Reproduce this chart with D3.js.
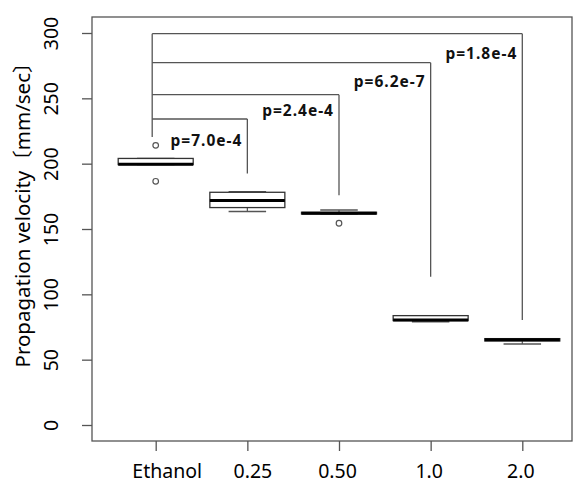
<!DOCTYPE html>
<html><head><meta charset="utf-8">
<script src="https://cdn.jsdelivr.net/npm/d3@7"></script>
<style>
body{margin:0;background:#fff;}
svg{display:block;}
</style></head>
<body>
<svg id="chart" width="577" height="482"></svg>
<script>
const categories = ["Ethanol","0.25","0.50","1.0","2.0"];
const whiskerLow  = [199.3, 163.4, 161.5, 79.1, 62.0];
const q1          = [199.3, 166.4, 161.5, 79.9, 64.3];
const median      = [199.6, 171.9, 162.0, 80.4, 65.3];
const q3          = [204.0, 178.1, 162.8, 83.7, 66.1];
const whiskerHigh = [204.0, 178.5, 164.5, 83.7, 66.1];
const outlierCats = ["Ethanol","Ethanol","0.50"];
const outlierVals = [214.0, 186.5, 154.4];
const yTicks = [0, 50, 100, 150, 200, 250, 300];
const compCats = ["0.25","0.50","1.0","2.0"];
const bracketY = [234.2, 252.8, 277.3, 299.5];
const bracketEnd = [192.4, 175.8, 113.4, 80.3];
const bracketStart = 220.4;
const pLabels = ["p=7.0e-4","p=2.4e-4","p=6.2e-7","p=1.8e-4"];
const pLabelY = [218.1, 241.1, 262.7, 284.5];
const yTitle = "Propagation velocity〔mm/sec〕";

const svg = d3.select("#chart");
const frame = {left: 92, right: 572, top: 17, bottom: 441};
const x = d3.scalePoint().domain(categories).range([155.7, 522.3]);
const y = d3.scaleLinear().domain([0, 300]).range([425, 33]);
const boxW = 75;
const grey = "#555";
const labelShift = {"Ethanol": 11, "0.25": 5};

// frame
svg.append("rect").attr("x", frame.left).attr("y", frame.top)
  .attr("width", frame.right - frame.left).attr("height", frame.bottom - frame.top)
  .attr("fill", "none").attr("stroke", grey).attr("stroke-width", 1.3);

// y axis
const ya = svg.append("g").attr("transform", `translate(${frame.left},0)`)
  .call(d3.axisLeft(y).tickValues(yTicks).tickSize(10).tickPadding(0));
ya.select(".domain").remove();
ya.selectAll(".tick line").attr("stroke", grey).attr("stroke-width", 1.3);
ya.selectAll(".tick text").remove();
ya.selectAll(".tick").append("text")
  .attr("transform", "translate(-41,0) rotate(-90)")
  .attr("text-anchor", "middle").attr("dy", "0.36em")
  .attr("fill", "#000").attr("font-family", "Noto Sans").attr("font-size", 19.5)
  .text(d => d);

// x axis
const xa = svg.append("g").attr("transform", `translate(0,${frame.bottom})`)
  .call(d3.axisBottom(x).tickSize(10).tickPadding(0));
xa.select(".domain").remove();
xa.selectAll(".tick line").attr("stroke", grey).attr("stroke-width", 1.3);
xa.selectAll(".tick text").attr("y", 36.5).attr("dy", 0)
  .attr("dx", d => labelShift[d] !== undefined ? labelShift[d] : -2)
  .attr("fill", "#000").attr("font-family", "Noto Sans").attr("font-size", 19.5);

// y title
svg.append("text").attr("transform", "translate(30,210) rotate(-90)")
  .attr("text-anchor", "middle").attr("font-family", "Noto Sans, Noto Sans CJK JP")
  .attr("font-size", 20.5).attr("fill", "#000").text(yTitle);

// brackets
const bx0 = x("Ethanol") - 3.5;
const gb = svg.append("g").attr("stroke", grey).attr("stroke-width", 1.3).attr("fill", "none");
gb.append("line").attr("x1", bx0).attr("x2", bx0)
  .attr("y1", y(d3.max(bracketY))).attr("y2", y(bracketStart));
compCats.forEach((c, i) => {
  gb.append("line").attr("x1", bx0).attr("x2", x(c)).attr("y1", y(bracketY[i])).attr("y2", y(bracketY[i]));
  gb.append("line").attr("x1", x(c)).attr("x2", x(c)).attr("y1", y(bracketY[i])).attr("y2", y(bracketEnd[i]));
});
svg.append("g").selectAll("text").data(compCats).join("text")
  .attr("x", c => x(c) - 5).attr("y", (c, i) => y(pLabelY[i]))
  .attr("dy", "0.36em").attr("text-anchor", "end")
  .attr("font-family", "Noto Sans").attr("font-weight", "bold").attr("font-size", 15.5)
  .attr("letter-spacing", 1).attr("fill", "#111")
  .text((c, i) => pLabels[i]);

// boxes
const boxes = svg.append("g");
categories.forEach((c, i) => {
  const cx = x(c);
  const g = boxes.append("g");
  g.append("line").attr("x1", cx).attr("x2", cx).attr("y1", y(q3[i])).attr("y2", y(whiskerHigh[i]))
    .attr("stroke", grey).attr("stroke-width", 1.2);
  g.append("line").attr("x1", cx).attr("x2", cx).attr("y1", y(q1[i])).attr("y2", y(whiskerLow[i]))
    .attr("stroke", grey).attr("stroke-width", 1.2);
  [whiskerLow[i], whiskerHigh[i]].forEach(v => {
    g.append("line").attr("x1", cx - boxW / 4).attr("x2", cx + boxW / 4).attr("y1", y(v)).attr("y2", y(v))
      .attr("stroke", grey).attr("stroke-width", 1.5);
  });
  g.append("rect").attr("x", cx - boxW / 2).attr("width", boxW)
    .attr("y", y(q3[i])).attr("height", Math.max(0.5, y(q1[i]) - y(q3[i])))
    .attr("fill", "#fff").attr("stroke", "#333").attr("stroke-width", 1.3);
  g.append("line").attr("x1", cx - boxW / 2).attr("x2", cx + boxW / 2)
    .attr("y1", y(median[i])).attr("y2", y(median[i]))
    .attr("stroke", "#000").attr("stroke-width", 3);
});
boxes.selectAll("circle").data(outlierVals).join("circle")
  .attr("cx", (v, i) => x(outlierCats[i])).attr("cy", v => y(v)).attr("r", 2.8)
  .attr("fill", "#fff").attr("stroke", grey).attr("stroke-width", 1.2);
</script>
</body></html>
